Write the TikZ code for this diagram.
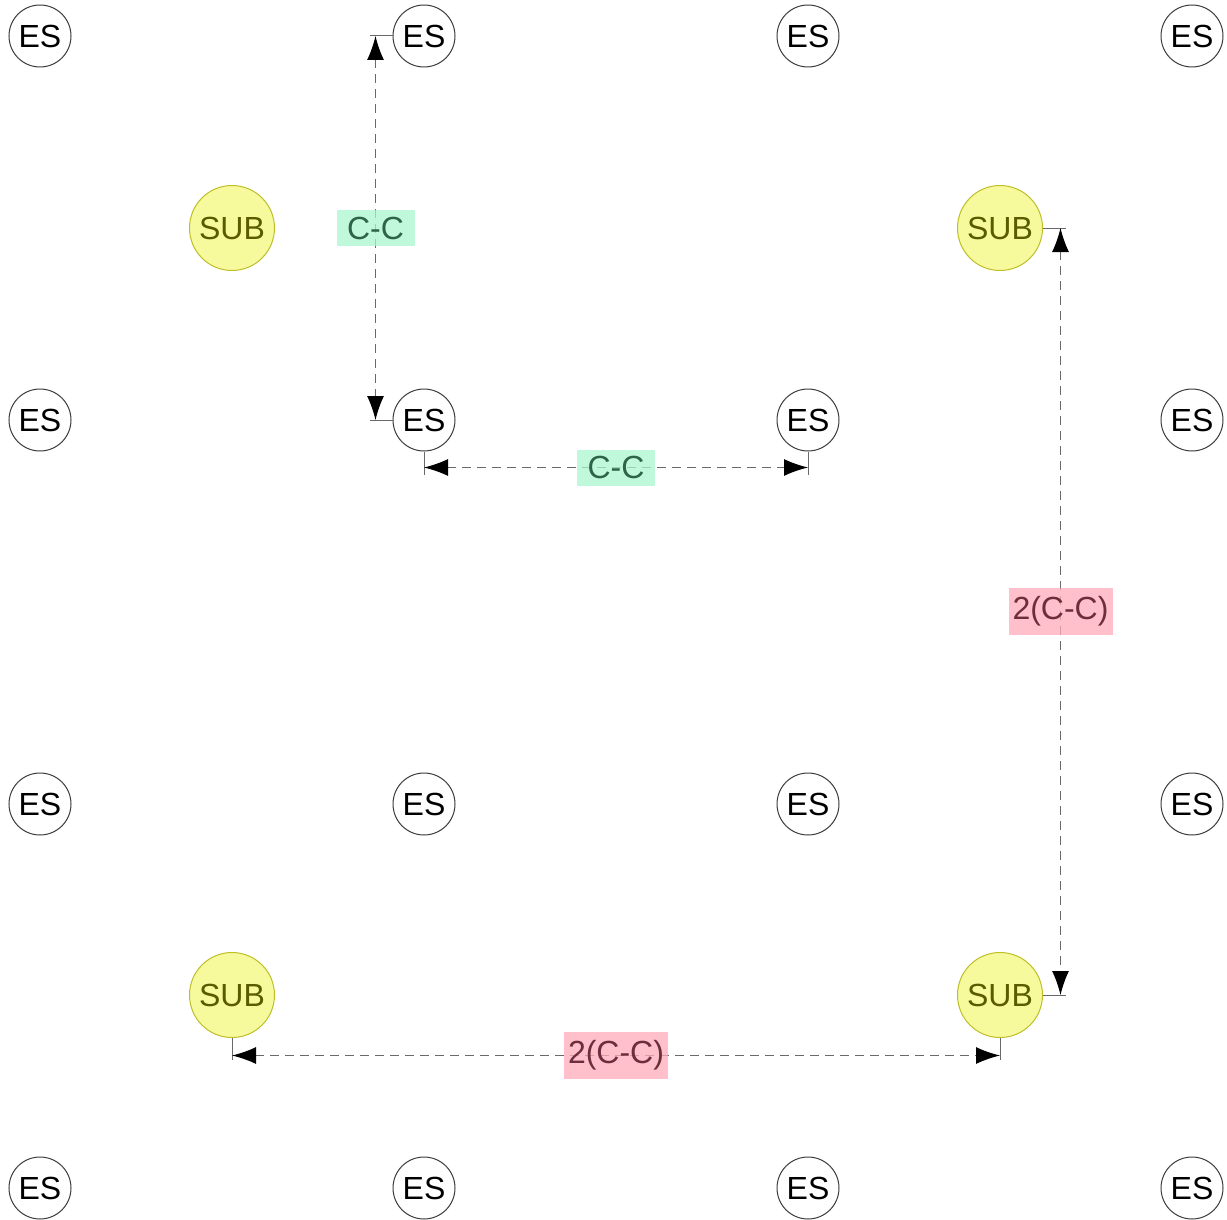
\documentclass[tikz,border=0pt]{standalone}
\usepackage{fontspec}
\setmainfont{Liberation Sans}
\usetikzlibrary{positioning,arrows.meta}
\definecolor{esline}{RGB}{60,60,60}
\definecolor{subfill}{RGB}{247,250,156}
\definecolor{subline}{RGB}{190,190,40}
\definecolor{subtext}{RGB}{90,90,0}
\definecolor{dimline}{RGB}{105,105,105}
\definecolor{ccfill}{RGB}{170,245,205}
\definecolor{cctext}{RGB}{45,100,70}
\definecolor{twofill}{RGB}{255,171,185}
\definecolor{twotext}{RGB}{110,45,60}

\begin{document}
\begin{tikzpicture}[node distance=192pt, font=\fontsize{16pt}{19pt}\selectfont]
\tikzstyle{es}=[shape=circle,draw=esline,line width=0.5pt,minimum size=31pt,inner sep=0pt]
\tikzstyle{sub}=[shape=circle,draw=subline,fill=subfill,text=subtext,line width=0.5pt,minimum size=42.5pt,inner sep=0pt]
\tikzstyle{dim}=[draw=dimline,line width=0.6pt,dash pattern=on 4.5pt off 3pt,{Latex[length=12pt,width=8.5pt,color=black]}-{Latex[length=12pt,width=8.5pt,color=black]}]
\tikzstyle{ext}=[draw=dimline,line width=0.5pt]
\tikzstyle{cc}=[fill=ccfill,fill opacity=0.75,text opacity=1,text=cctext,minimum width=39pt,minimum height=18pt,inner sep=0pt]
\tikzstyle{twocc}=[fill=twofill,fill opacity=0.75,text opacity=1,text=twotext,minimum width=52pt,minimum height=23.5pt,inner sep=0pt]

\useasboundingbox (0,0) rectangle (613.5pt,-610pt);

% grid of ES
\node[es] (es11) at (20pt,-18pt) {ES};
\node[es, right of = es11] (es12) {ES};
\node[es, right of = es12] (es13) {ES};
\node[es, right of = es13] (es14) {ES};
\node[es, below of = es11] (es21) {ES};
\node[es, right of = es21] (es22) {ES};
\node[es, right of = es22] (es23) {ES};
\node[es, right of = es23] (es24) {ES};
\node[es, below of = es21] (es31) {ES};
\node[es, right of = es31] (es32) {ES};
\node[es, right of = es32] (es33) {ES};
\node[es, right of = es33] (es34) {ES};
\node[es, below of = es31] (es41) {ES};
\node[es, right of = es41] (es42) {ES};
\node[es, right of = es42] (es43) {ES};
\node[es, right of = es43] (es44) {ES};

% substations
\node[sub] (sub1) at (116pt,-114pt) {SUB};
\node[sub] (sub2) at (500pt,-114pt) {SUB};
\node[sub] (sub3) at (116pt,-497.5pt) {SUB};
\node[sub] (sub4) at (500pt,-497.5pt) {SUB};

% dimension ends
\coordinate (a1) at ([xshift=-8.5pt]es12.west);
\coordinate (a2) at ([xshift=-8.5pt]es22.west);
\coordinate (ta1) at ([xshift=-11.5pt]es12.west);
\coordinate (ta2) at ([xshift=-11.5pt]es22.west);
\coordinate (b1) at ([yshift=-8pt]es22.south);
\coordinate (b2) at ([yshift=-8pt]es23.south);
\coordinate (tb1) at ([yshift=-11.5pt]es22.south);
\coordinate (tb2) at ([yshift=-11.5pt]es23.south);
\coordinate (c1) at ([xshift=8.75pt]sub2.east);
\coordinate (c2) at ([xshift=8.75pt]sub4.east);
\coordinate (tc1) at ([xshift=11.5pt]sub2.east);
\coordinate (tc2) at ([xshift=11.5pt]sub4.east);
\coordinate (d1) at ([yshift=-8.75pt]sub3.south);
\coordinate (d2) at ([yshift=-8.75pt]sub4.south);
\coordinate (td1) at ([yshift=-11pt]sub3.south);
\coordinate (td2) at ([yshift=-11pt]sub4.south);

\path[ext] (es12.west) -- (ta1);
\path[ext] (es22.west) -- (ta2);
\path[ext] (es22.south) -- (tb1);
\path[ext] (es23.south) -- (tb2);
\path[ext] (sub2.east) -- (tc1);
\path[ext] (sub4.east) -- (tc2);
\path[ext] (sub3.south) -- (td1);
\path[ext] (sub4.south) -- (td2);

\path (a1) edge[dim] node[cc] {C-C} (a2);
\path (b1) edge[dim] node[cc] {C-C} (b2);
\path (c1) edge[dim] node[twocc] {2(C-C)} (c2);
\path (d1) edge[dim] node[twocc] {2(C-C)} (d2);
\end{tikzpicture}
\end{document}
